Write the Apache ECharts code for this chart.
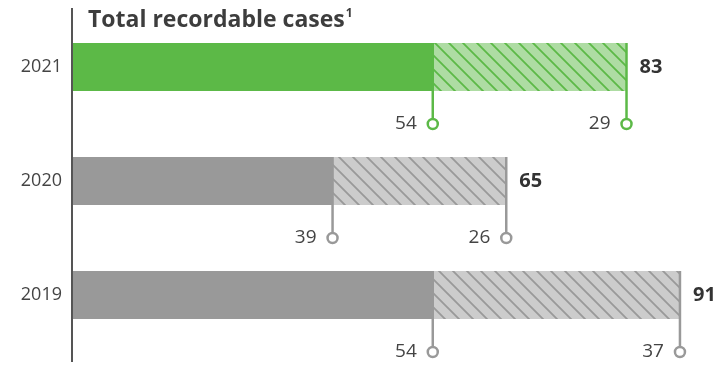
<!DOCTYPE html>
<html>
<head>
<meta charset="utf-8">
<script src="https://cdn.jsdelivr.net/npm/echarts@6/dist/echarts.min.js"></script>
<style>
  html, body { margin: 0; padding: 0; background: #fff; }
  #chart { width: 720px; height: 367px; }
</style>
</head>
<body>
<div id="chart"></div>
<script>
// data
const years = ["2021", "2020", "2019"];
const firstPart = [54, 39, 54];
const secondPart = [29, 26, 37];
const totals = [83, 65, 91];

const GREEN = "#5cb947";
const GREEN_LIGHT = "#aedca3";
const GREY = "#999999";
const GREY_LIGHT = "#cccccc";

// hatch pattern for the second part of each bar
function hatch(bg, fg) {
  const s = 14;
  const c = document.createElement("canvas");
  c.width = s;
  c.height = s;
  const ctx = c.getContext("2d");
  ctx.fillStyle = bg;
  ctx.fillRect(0, 0, s, s);
  ctx.strokeStyle = fg;
  ctx.lineWidth = 1.8;
  ctx.beginPath();
  ctx.moveTo(-1, -1); ctx.lineTo(s + 1, s + 1);
  ctx.moveTo(-s / 2 - 1, s / 2 - 1); ctx.lineTo(s / 2 + 1, s * 1.5 + 1);
  ctx.moveTo(s / 2 - 1, -s / 2 - 1); ctx.lineTo(s * 1.5 + 1, s / 2 + 1);
  ctx.stroke();
  return { image: c, repeat: "repeat" };
}
const greenHatch = hatch(GREEN_LIGHT, GREEN);
const greyHatch = hatch(GREY_LIGHT, GREY);

const colorOf = (i) => (i === 0 ? GREEN : GREY);

// markers: cumulative position, category index, label
const markers = [];
years.forEach((y, i) => {
  markers.push([firstPart[i], i, firstPart[i]]);
  markers.push([firstPart[i] + secondPart[i], i, secondPart[i]]);
});

const chart = echarts.init(document.getElementById("chart"));
chart.setOption({
  animation: false,
  title: {
    text: "Total recordable cases{sup|1}",
    left: 83,
    top: 3,
    textStyle: {
      fontFamily: "Open Sans",
      fontSize: 23,
      fontWeight: "bold",
      color: "#3d3d3d",
      rich: {
        sup: { fontFamily: "Open Sans", fontSize: 12, fontWeight: "bold", color: "#3d3d3d", padding: [0, 0, 12, 1] },
      },
    },
  },
  grid: { left: 72, right: 20, top: 10, bottom: 15 },
  xAxis: {
    type: "value",
    min: 0,
    max: 94,
    show: false,
  },
  yAxis: {
    type: "category",
    data: years,
    inverse: true,
    axisLine: { show: false },
    axisTick: { show: false },
    axisLabel: { margin: 10, fontFamily: "Open Sans", fontSize: 18, color: "#444" },
  },
  graphic: [
    {
      type: "line",
      shape: { x1: 72, y1: 8, x2: 72, y2: 362 },
      style: { stroke: "#555", lineWidth: 2 },
      z: 10,
    },
  ],
  series: [
    {
      type: "bar",
      stack: "t",
      barWidth: 48,
      data: firstPart.map((v, i) => ({ value: v, itemStyle: { color: colorOf(i) } })),
    },
    {
      type: "bar",
      stack: "t",
      barWidth: 48,
      data: secondPart.map((v, i) => ({
        value: v,
        itemStyle: { color: i === 0 ? greenHatch : greyHatch },
      })),
      label: {
        show: true,
        position: "right",
        distance: 13,
        fontFamily: "Open Sans",
        fontSize: 20,
        fontWeight: "bold",
        color: "#333",
        formatter: (p) => String(totals[p.dataIndex]),
      },
    },
    {
      type: "custom",
      data: markers,
      z: 5,
      renderItem: (params, api) => {
        const pt = api.coord([api.value(0), api.value(1)]);
        const ci = api.value(1);
        const col = colorOf(ci);
        const x = pt[0];
        const top = pt[1] - 24;
        const cy = pt[1] + 57;
        return {
          type: "group",
          children: [
            {
              type: "line",
              shape: { x1: x, y1: top, x2: x, y2: cy - 5 },
              style: { stroke: col, lineWidth: 2.5 },
            },
            {
              type: "circle",
              shape: { cx: x, cy: cy, r: 5 },
              style: { fill: "#fff", stroke: col, lineWidth: 2.5 },
            },
            {
              type: "text",
              x: x - 16,
              y: cy,
              style: {
                text: String(api.value(2)),
                align: "right",
                verticalAlign: "middle",
                fontFamily: "Open Sans",
                fontSize: 19,
                fill: "#444",
              },
            },
          ],
        };
      },
    },
  ],
});
</script>
</body>
</html>
